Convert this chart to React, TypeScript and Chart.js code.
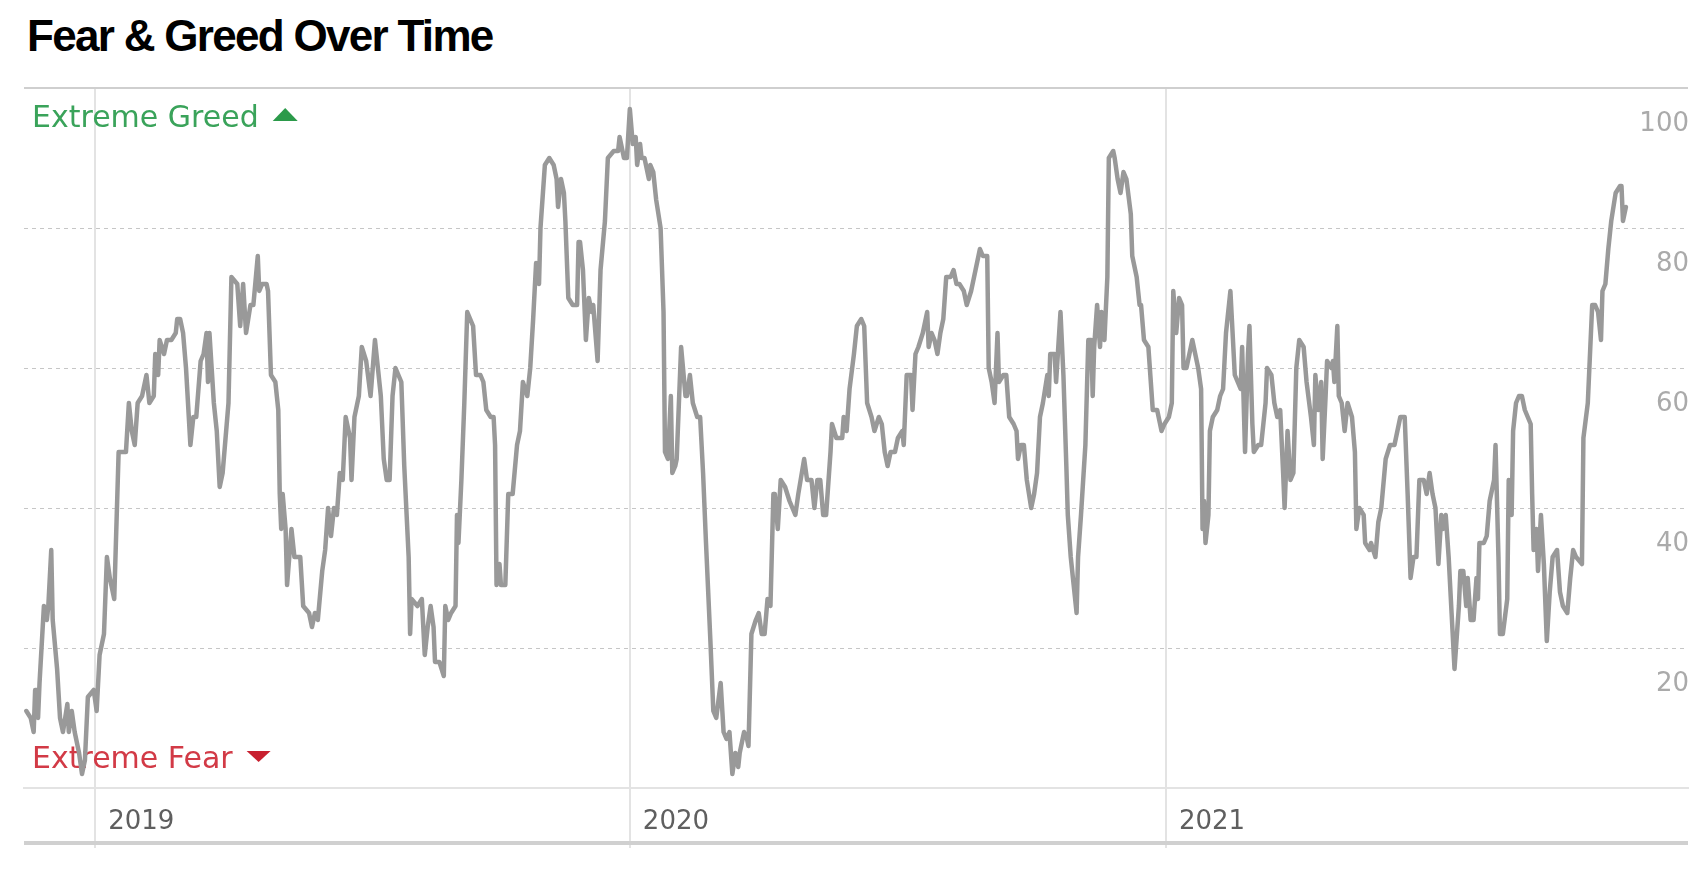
import React, { useEffect, useRef } from 'react';
import { Chart, registerables } from 'chart.js';

Chart.register(...registerables);

const TITLE = 'Fear & Greed Over Time';
const GREED_LABEL = 'Extreme Greed';
const FEAR_LABEL = 'Extreme Fear';

// Day offsets counted from 2019-01-01 (negative = late 2018)
const dayOffsets: number[] = [
  -47, -44, -42, -41, -40, -39, -38, -35, -33, -32,
  -30, -29, -26, -24, -22, -19, -18, -16, -14, -11,
  -9, -7, -5, -1, 1, 3, 6, 8, 10, 13,
  16, 21, 23, 25, 27, 29, 32, 35, 37, 40,
  41, 43, 44, 47, 49, 52, 55, 56, 58, 60,
  62, 65, 67, 69, 72, 74, 76, 77, 78, 81,
  83, 85, 87, 91, 93, 97, 99, 101, 103, 106,
  108,
  111, 112, 114, 117, 118, 120, 123, 125, 126, 127,
  128, 130, 131, 134, 136, 140, 142, 146, 148, 150,
  152, 155, 157, 159, 161, 163, 165, 167, 169, 171,
  174, 175, 177, 180, 182, 185, 188, 191, 195, 197,
  199, 201, 203, 205, 209, 211, 214, 215, 216, 220,
  223, 225, 227, 229, 231, 232, 235, 238, 239, 241,
  243, 246, 247, 248, 250, 252, 254, 256, 258, 260,
  263, 265, 267, 270, 272, 273,
  274, 276, 277, 280, 282, 285, 288, 290, 292, 295,
  297, 299, 301, 303, 304, 307, 310, 313, 315, 316,
  318, 320, 321, 323, 326, 329, 330, 331, 333, 335,
  337, 339, 340, 343, 345, 348, 350, 354, 357, 358,
  361, 363, 365, 367, 369, 370, 372, 373, 375, 378,
  379, 381, 383, 386, 388, 389, 391, 393, 394, 396,
  397, 400, 403, 404, 406, 408, 411, 413, 415, 417,
  420, 422, 424, 427, 429, 431,
  433, 435, 437, 439, 440, 443, 445, 446, 448, 451,
  453, 455, 457, 459, 461, 463, 464, 466, 468, 471,
  474, 478, 480, 484, 486, 489, 491, 493, 495, 497,
  499, 502, 503, 506, 510, 511, 513, 515, 518, 520,
  523, 525, 527, 530, 532, 535, 537, 539, 541, 543,
  546, 548, 551, 552, 554, 557, 558, 560, 562, 565,
  568, 569, 571, 573, 575, 577, 579, 581, 584, 586,
  588, 590,
  593, 595, 598, 601, 604, 606, 609, 610, 612, 614,
  616, 617, 620, 622, 624, 627, 629, 630, 632, 634,
  636, 639, 641, 643, 645, 647, 650, 651, 652, 655,
  656, 659, 661, 663, 664, 666, 668, 670, 671, 673,
  676, 678, 680, 681, 682, 684, 686, 687, 689, 691,
  692, 695, 696, 698, 700, 702, 704, 707, 708, 711,
  713, 714, 716, 719, 722, 725, 726, 728, 730, 733,
  735, 736, 738, 740, 742, 743, 745, 747, 749, 751,
  753, 755, 756, 757, 758, 760, 761, 763, 766, 768,
  770, 772, 775, 778, 780, 782, 783, 785, 787, 788,
  790, 791, 794, 796, 799, 800, 803, 805, 807, 809,
  811, 812, 814, 816, 818, 820, 822, 825, 827, 830,
  832, 833, 835, 837, 838, 840, 841, 844, 845, 846,
  848, 849, 851, 853, 855, 858, 860, 861, 863, 866,
  867, 870, 871, 874, 876, 878, 881, 884, 887, 889,
  891, 894, 896, 898, 900, 902, 904, 907, 909, 911,
  913, 915, 917, 919, 920, 922, 924, 926, 928, 931,
  932, 934, 936, 937, 939, 941, 943, 944, 945, 948,
  950, 952, 955, 956, 958, 959, 961, 964, 965, 967,
  968, 970, 972, 974, 976, 978, 980, 981, 982, 984,
  985, 987, 989, 991, 993, 995, 998, 1000, 1002, 1005,
  1007, 1009, 1011, 1015, 1016, 1019, 1022, 1024, 1026, 1028,
  1029, 1031, 1033, 1035, 1038, 1041, 1042, 1043, 1045,
];

// Fear & Greed index values at those days
const fearGreedIndex: number[] = [
  11, 10, 8, 14, 14, 10, 15, 26, 24, 26,
  34, 24, 17, 10, 8, 12, 8, 11, 8, 5,
  2, 4, 13, 14, 11, 19, 22, 33, 30, 27,
  48, 48, 55, 51, 49, 55, 56, 59, 55, 56,
  62, 59, 64, 62, 64, 64, 65, 67, 67, 65,
  60, 49, 53, 53, 61, 62, 65, 58, 65, 55,
  51, 43, 45, 55, 73, 72, 66, 72, 65, 69,
  69,
  76, 71, 72, 72, 71, 59, 58, 54, 42, 37,
  42, 37, 29, 37, 33, 33, 26, 25, 23, 25,
  24, 31, 34, 40, 36, 40, 39, 45, 44, 53,
  50, 44, 53, 56, 63, 61, 56, 64, 56, 47,
  44, 44, 56, 60, 58, 46, 33, 22, 27, 26,
  27, 19, 23, 26, 23, 18, 18, 16, 26, 24,
  25, 26, 39, 35, 44, 55, 68, 67, 66, 59,
  59, 58, 54, 53, 53, 49,
  29, 32, 29, 29, 42, 42, 49, 51, 58, 56,
  60, 67, 75, 72, 80, 89, 90, 89, 87, 83,
  87, 85, 81, 70, 69, 69, 78, 78, 74, 64,
  70, 68, 69, 61, 74, 81, 90, 91, 91, 93,
  90, 90, 97, 92, 93, 89, 92, 90, 90, 87,
  89, 88, 84, 80, 68, 48, 47, 56, 45, 46,
  47, 63, 56, 56, 59, 55, 53, 53, 45, 35,
  21, 11, 10, 15, 8, 7,
  8, 2, 5, 3, 5, 8, 7, 6, 22, 24,
  25, 22, 22, 27, 26, 42, 42, 37, 44, 43,
  41, 39, 42, 47, 44, 44, 40, 44, 44, 39,
  39, 48, 52, 50, 50, 53, 51, 57, 62, 66,
  67, 66, 55, 53, 51, 53, 52, 48, 46, 48,
  48, 50, 51, 49, 59, 59, 54, 62, 63, 65,
  68, 63, 65, 64, 62, 65, 67, 73, 73, 74,
  72, 72,
  71, 69, 71, 74, 77, 76, 76, 60, 58, 55,
  65, 58, 59, 59, 53, 52, 51, 47, 49, 49,
  44, 40, 42, 45, 53, 55, 59, 56, 62, 62,
  58, 68, 59, 46, 39, 33, 29, 25, 33, 39,
  49, 64, 64, 56, 63, 69, 63, 68, 64, 73,
  90, 91, 90, 87, 85, 88, 87, 82, 76, 73,
  69, 69, 64, 63, 54, 54, 53, 51, 52, 53,
  55, 71, 65, 70, 69, 60, 60, 62, 64, 62,
  60, 57, 37, 41, 35, 39, 51, 53, 54, 56,
  57, 65, 71, 59, 58, 57, 63, 48, 62, 66,
  52, 48, 49, 49, 55, 60, 59, 55, 53, 54,
  45, 40, 51, 44, 45, 60, 64, 63, 58, 53,
  49, 59, 54, 58, 47, 56, 61, 60, 61, 58,
  66, 56, 55, 51, 55, 53, 48, 37, 40, 39,
  35, 34, 35, 33, 38, 40, 47, 49, 49, 51,
  53, 53, 42, 30, 33, 33, 44, 44, 42, 45,
  42, 40, 32, 39, 37, 39, 33, 25, 17, 26,
  31, 31, 26, 30, 24, 24, 30, 27, 35, 35,
  36, 41, 44, 49, 33, 22, 22, 27, 44, 39,
  51, 55, 56, 56, 54, 53, 52, 42, 34, 37,
  31, 39, 32, 21, 28, 33, 34, 28, 26, 25,
  30, 34, 33, 32, 50, 55, 69, 69, 68, 64,
  71, 72, 77, 81, 85, 86, 86, 81, 83,
];

const yearLabels: string[] = ['2019', '2020', '2021'];
const yearStartDays: number[] = [0, 365, 731];
const yTickValues: number[] = [0, 20, 40, 60, 80, 100];
const xRange: number[] = [-48.6, 1087.4];

const LABEL_FONT = '"DejaVu Sans", Verdana, sans-serif';

const decorPlugin = {
  id: 'fgDecor',
  beforeDatasetsDraw(chart: any) {
    const { ctx, chartArea } = chart;
    const y = chart.scales.y;
    ctx.save();
    // horizontal grid lines
    for (const t of y.ticks) {
      const v = t.value;
      if (v <= 0) continue;
      const py = Math.round(y.getPixelForValue(v));
      ctx.beginPath();
      if (v >= 100) {
        ctx.setLineDash([]);
        ctx.strokeStyle = '#cfcfcf';
        ctx.lineWidth = 2;
        ctx.moveTo(chartArea.left, py);
        ctx.lineTo(chartArea.right, py);
      } else {
        ctx.setLineDash([4, 4]);
        ctx.strokeStyle = '#c6c6c6';
        ctx.lineWidth = 1;
        ctx.moveTo(chartArea.left, py + 0.5);
        ctx.lineTo(chartArea.right, py + 0.5);
      }
      ctx.stroke();
    }
    ctx.setLineDash([]);
    // y tick labels (below each line, right side)
    ctx.font = `26px ${LABEL_FONT}`;
    ctx.fillStyle = '#aaaaaa';
    ctx.textAlign = 'right';
    ctx.textBaseline = 'alphabetic';
    for (const t of y.ticks) {
      if (t.value <= 0) continue;
      ctx.fillText(String(t.value), chartArea.right + 1, y.getPixelForValue(t.value) + 43);
    }
    // zone labels
    ctx.textAlign = 'left';
    ctx.font = `30px ${LABEL_FONT}`;
    const lx = chartArea.left + 8;
    const gy = chartArea.top + 39;
    ctx.fillStyle = '#3aa35a';
    ctx.fillText(GREED_LABEL, lx, gy);
    let tx = lx + ctx.measureText(GREED_LABEL).width + 14;
    ctx.fillStyle = '#2b9a4a';
    ctx.beginPath();
    ctx.moveTo(tx, gy - 6);
    ctx.lineTo(tx + 25, gy - 6);
    ctx.lineTo(tx + 12.5, gy - 19);
    ctx.closePath();
    ctx.fill();

    const fy = chartArea.bottom - 20;
    ctx.fillStyle = '#d23a46';
    ctx.fillText(FEAR_LABEL, lx, fy);
    tx = lx + ctx.measureText(FEAR_LABEL).width + 14;
    ctx.fillStyle = '#c8202f';
    ctx.beginPath();
    ctx.moveTo(tx, fy - 17);
    ctx.lineTo(tx + 24, fy - 17);
    ctx.lineTo(tx + 12, fy - 6);
    ctx.closePath();
    ctx.fill();
    ctx.restore();
  },
  afterDraw(chart: any) {
    const { ctx, chartArea } = chart;
    const x = chart.scales.x;
    ctx.save();
    ctx.fillStyle = '#d0d0d0';
    ctx.fillRect(chartArea.left, x.bottom - 2, chartArea.right - chartArea.left, 4);
    ctx.restore();
  },
};

export default function App() {
  const canvasRef = useRef<HTMLCanvasElement | null>(null);

  useEffect(() => {
    const canvas = canvasRef.current;
    if (!canvas) return;
    const n = Math.min(dayOffsets.length, fearGreedIndex.length);
    const points = [];
    for (let i = 0; i < n; i++) points.push({ x: dayOffsets[i], y: fearGreedIndex[i] });

    const chart = new Chart(canvas, {
      type: 'line',
      data: {
        datasets: [
          {
            data: points,
            borderColor: '#999999',
            borderWidth: 4.5,
            pointRadius: 0,
            tension: 0,
            fill: false,
            borderJoinStyle: 'round',
            borderCapStyle: 'round',
          },
        ],
      },
      options: {
        animation: false,
        responsive: false,
        devicePixelRatio: 1,
        events: [],
        layout: { padding: { left: 24, right: 9, top: 88, bottom: 27 } },
        plugins: {
          legend: { display: false },
          tooltip: { enabled: false },
          title: { display: false },
        },
        scales: {
          x: {
            type: 'linear',
            position: 'bottom',
            min: xRange[0],
            max: xRange[1],
            afterBuildTicks: (s: any) => {
              s.ticks = yearStartDays.map((v) => ({ value: v }));
            },
            afterFit: (s: any) => {
              s.height = 55;
            },
            grid: { color: '#e3e3e3', lineWidth: 2, drawTicks: true, tickLength: 60 },
            border: { display: true, color: '#e3e3e3', width: 2 },
            ticks: {
              autoSkip: false,
              maxRotation: 0,
              align: 'start',
              labelOffset: 13,
              padding: -41,
              color: '#5f5f5f',
              font: { family: LABEL_FONT, size: 26 },
              callback: (v: any) => {
                const i = yearStartDays.indexOf(Number(v));
                return i >= 0 ? yearLabels[i] : '';
              },
            },
          },
          y: {
            min: 0,
            max: 100,
            afterBuildTicks: (s: any) => {
              s.ticks = yTickValues.map((v) => ({ value: v }));
            },
            afterFit: (s: any) => {
              s.width = 0;
            },
            grid: { display: false },
            border: { display: false },
            ticks: { display: false },
          },
        },
      } as any,
      plugins: [decorPlugin],
    });
    return () => chart.destroy();
  }, []);

  return (
    <div style={{ position: 'fixed', left: 0, top: 0, width: 1697, height: 870, background: '#fff', overflow: 'hidden' }}>
      <div
        style={{
          position: 'absolute',
          left: 27,
          top: 14,
          font: 'bold 44px "Liberation Sans", Arial, sans-serif',
          lineHeight: '44px',
          letterSpacing: '-1.7px',
          color: '#000',
          whiteSpace: 'nowrap',
        }}
      >
        {TITLE}
      </div>
      <canvas ref={canvasRef} width={1697} height={870} style={{ position: 'absolute', left: 0, top: 0 }} />
    </div>
  );
}
